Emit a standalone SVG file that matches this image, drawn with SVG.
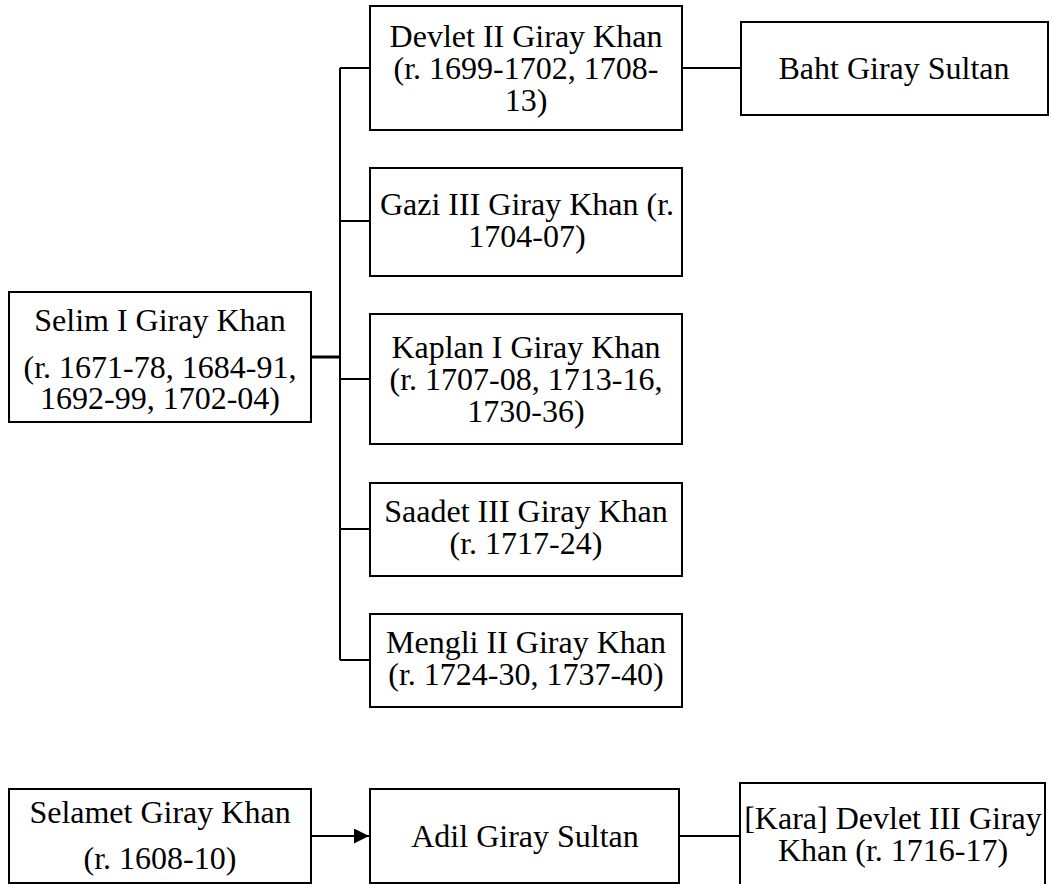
<svg xmlns="http://www.w3.org/2000/svg" width="1052" height="884" viewBox="0 0 1052 884">
<style>
.box{fill:#fff;stroke:#000;stroke-width:2}
.t{font-family:"Liberation Serif","Times New Roman",serif;font-size:32px;fill:#000;text-anchor:middle}
.c{stroke:#000;stroke-width:2;fill:none}
</style>
<defs>
<marker id="arr" markerWidth="16" markerHeight="16" refX="15" refY="7.5" orient="auto" markerUnits="userSpaceOnUse">
<path d="M0,0 L15,7.5 L0,15 Z" fill="#000"/>
</marker>
</defs>
<rect width="1052" height="884" fill="#fff"/>
<g id="connectors">
<line class="c" x1="340" y1="68" x2="340" y2="660"/>
<line class="c" x1="311" y1="357" x2="340" y2="357" style="stroke-width:3"/>
<line class="c" x1="340" y1="68" x2="370" y2="68"/>
<line class="c" x1="340" y1="221" x2="370" y2="221"/>
<line class="c" x1="340" y1="379" x2="370" y2="379"/>
<line class="c" x1="340" y1="529" x2="370" y2="529"/>
<line class="c" x1="340" y1="660" x2="370" y2="660"/>
<line class="c" x1="682" y1="68" x2="741" y2="68"/>
<line class="c" x1="311" y1="836" x2="369" y2="836" marker-end="url(#arr)"/>
<line class="c" x1="679" y1="836" x2="740" y2="836"/>
</g>
<g id="selim">
<rect class="box" x="9" y="292" width="302" height="130"/>
<text class="t" x="160" y="331">Selim I Giray Khan</text>
<text class="t" x="160" y="378">(r. 1671-78, 1684-91,</text>
<text class="t" x="160" y="409">1692-99, 1702-04)</text>
</g>
<g id="devlet2">
<rect class="box" x="370" y="6" width="312" height="124"/>
<text class="t" x="526" y="47">Devlet II Giray Khan</text>
<text class="t" x="526" y="79">(r. 1699-1702, 1708-</text>
<text class="t" x="526" y="111">13)</text>
</g>
<g id="baht">
<rect class="box" x="741" y="22" width="307" height="93"/>
<text class="t" x="894" y="79">Baht Giray Sultan</text>
</g>
<g id="gazi">
<rect class="box" x="370" y="168" width="312" height="108"/>
<text class="t" x="527" y="215">Gazi III Giray Khan (r.</text>
<text class="t" x="527" y="247">1704-07)</text>
</g>
<g id="kaplan">
<rect class="box" x="370" y="314" width="312" height="130"/>
<text class="t" x="526" y="358">Kaplan I Giray Khan</text>
<text class="t" x="526" y="390">(r. 1707-08, 1713-16,</text>
<text class="t" x="526" y="422">1730-36)</text>
</g>
<g id="saadet">
<rect class="box" x="370" y="483" width="312" height="93"/>
<text class="t" x="526" y="522">Saadet III Giray Khan</text>
<text class="t" x="526" y="554">(r. 1717-24)</text>
</g>
<g id="mengli">
<rect class="box" x="370" y="614" width="312" height="93"/>
<text class="t" x="526" y="653">Mengli II Giray Khan</text>
<text class="t" x="526" y="685">(r. 1724-30, 1737-40)</text>
</g>
<g id="selamet">
<rect class="box" x="9" y="789" width="302" height="94"/>
<text class="t" x="160" y="823">Selamet Giray Khan</text>
<text class="t" x="160" y="869">(r. 1608-10)</text>
</g>
<g id="adil">
<rect class="box" x="370" y="789" width="309" height="94"/>
<text class="t" x="525" y="847">Adil Giray Sultan</text>
</g>
<g id="kara">
<rect class="box" x="740" y="783" width="305" height="110"/>
<text class="t" x="893" y="829">[Kara] Devlet III Giray</text>
<text class="t" x="893" y="861">Khan (r. 1716-17)</text>
</g>
</svg>
